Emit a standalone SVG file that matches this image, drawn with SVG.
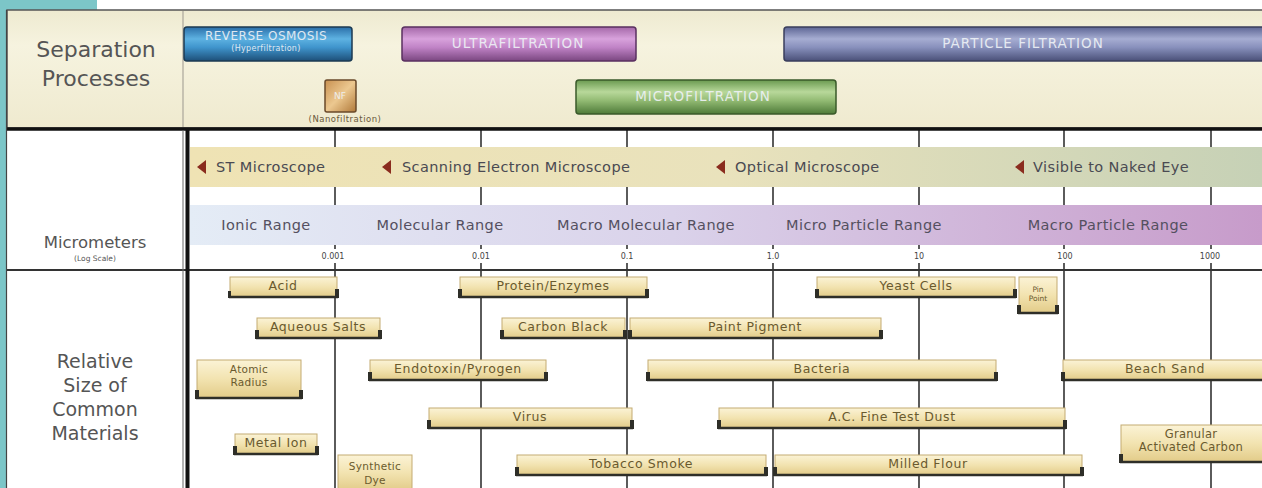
<svg xmlns="http://www.w3.org/2000/svg" width="1262" height="488" viewBox="0 0 1262 488">
<defs>
<linearGradient id="tan" x1="0" y1="0" x2="0" y2="1"><stop offset="0" stop-color="#fbf3d6"/><stop offset="0.5" stop-color="#f2e3b0"/><stop offset="1" stop-color="#e2cb88"/></linearGradient>
<linearGradient id="gBlue" x1="0" y1="0" x2="0" y2="1"><stop offset="0" stop-color="#2a6ea8"/><stop offset="0.35" stop-color="#5eb2e2"/><stop offset="0.6" stop-color="#3f94cc"/><stop offset="1" stop-color="#1d4f78"/></linearGradient>
<linearGradient id="gPurple" x1="0" y1="0" x2="0" y2="1"><stop offset="0" stop-color="#a468a8"/><stop offset="0.35" stop-color="#d8a2dc"/><stop offset="0.6" stop-color="#c083c6"/><stop offset="1" stop-color="#7a4680"/></linearGradient>
<linearGradient id="gSlate" x1="0" y1="0" x2="0" y2="1"><stop offset="0" stop-color="#5d6594"/><stop offset="0.35" stop-color="#a6add2"/><stop offset="0.6" stop-color="#8890bc"/><stop offset="1" stop-color="#4a5078"/></linearGradient>
<linearGradient id="gGreen" x1="0" y1="0" x2="0" y2="1"><stop offset="0" stop-color="#6a9a50"/><stop offset="0.35" stop-color="#b8d89a"/><stop offset="0.6" stop-color="#93bb74"/><stop offset="1" stop-color="#4e7a38"/></linearGradient>
<linearGradient id="gNF" x1="0" y1="0" x2="1" y2="1"><stop offset="0" stop-color="#c89050"/><stop offset="0.5" stop-color="#ecc890"/><stop offset="1" stop-color="#b07838"/></linearGradient>
<linearGradient id="gPanel" x1="0" y1="0" x2="0" y2="1"><stop offset="0" stop-color="#eeead0"/><stop offset="0.3" stop-color="#f6f3df"/><stop offset="1" stop-color="#efeacf"/></linearGradient>
<linearGradient id="gMicro" x1="0" y1="0" x2="1" y2="0"><stop offset="0" stop-color="#efe3b4"/><stop offset="0.5" stop-color="#e9e2bc"/><stop offset="1" stop-color="#c6d1b6"/></linearGradient>
<linearGradient id="gRange" x1="0" y1="0" x2="1" y2="0"><stop offset="0" stop-color="#e4ecf6"/><stop offset="0.45" stop-color="#dad2ea"/><stop offset="1" stop-color="#c79bca"/></linearGradient>
<style>
.lbl{font-family:"DejaVu Sans",sans-serif;fill:#555;text-anchor:middle}
.bar{stroke-width:1.5}
.bartxt{font-family:"DejaVu Sans",sans-serif;font-size:13.5px;letter-spacing:1px;fill:#eef2f6;text-anchor:middle;opacity:0.9}
.band{font-family:"DejaVu Sans",sans-serif;font-size:14.5px;letter-spacing:0.4px;fill:#4a4a52}
.rng{font-family:"DejaVu Sans",sans-serif;font-size:14.5px;letter-spacing:0.4px;fill:#545060;text-anchor:middle}
.ax{font-family:"DejaVu Sans",sans-serif;font-size:8px;fill:#444;text-anchor:middle}
.grid{stroke:#333;stroke-width:1.6}
.box rect.b{fill:url(#tan);stroke:#c4ab72;stroke-width:1}
.box line{stroke:#2e2e28;stroke-width:2.6}
.box rect.cap{fill:#2e2e28}
.box text{font-family:"DejaVu Sans",sans-serif;font-size:12.5px;letter-spacing:0.6px;fill:#6a5a2e;text-anchor:middle}
.arr{fill:#8a2c1e}
</style>
</defs>

<!-- background -->
<rect x="0" y="0" width="1262" height="488" fill="#ffffff"/>
<rect x="0" y="0" width="97" height="10" fill="#7cc6c8"/>
<rect x="0" y="0" width="6" height="488" fill="#7cc6c8"/>

<!-- top panel -->
<g id="separation-panel">
<rect x="7" y="10" width="1256" height="118" fill="url(#gPanel)" stroke="#555" stroke-width="1.5"/>
<line x1="183" y1="11" x2="183" y2="127" stroke="#aaa69a" stroke-width="1.2"/>
<text class="lbl" x="96" y="57" font-size="22">Separation</text>
<text class="lbl" x="96" y="86" font-size="22">Processes</text>
</g>

<g id="reverse-osmosis">
<rect class="bar" x="184" y="27" width="168" height="34" rx="3" fill="url(#gBlue)" stroke="#1c3a52"/>
<text class="bartxt" x="266" y="40" style="font-size:12px;letter-spacing:0.5px">REVERSE OSMOSIS</text>
<text class="bartxt" x="266" y="51" style="font-size:8px;letter-spacing:0.3px">(Hyperfiltration)</text>
</g>
<g id="ultrafiltration">
<rect class="bar" x="402" y="27" width="234" height="34" rx="3" fill="url(#gPurple)" stroke="#5a3060"/>
<text class="bartxt" x="518" y="48">ULTRAFILTRATION</text>
</g>
<g id="particle-filtration">
<rect class="bar" x="784" y="27" width="490" height="34" rx="3" fill="url(#gSlate)" stroke="#3a3e5c"/>
<text class="bartxt" x="1023" y="48">PARTICLE FILTRATION</text>
</g>
<g id="microfiltration">
<rect class="bar" x="576" y="80" width="260" height="34" rx="3" fill="url(#gGreen)" stroke="#3a5a2a"/>
<text class="bartxt" x="703" y="101">MICROFILTRATION</text>
</g>
<g id="nanofiltration">
<rect x="325" y="80" width="31" height="32" rx="2" fill="url(#gNF)" stroke="#6a4a2a" stroke-width="1.5"/>
<text class="bartxt" x="340" y="99" style="font-size:9px;letter-spacing:0">NF</text>
<text x="345" y="122" font-family="DejaVu Sans, sans-serif" font-size="8.5" letter-spacing="0.5" fill="#6a5a3a" text-anchor="middle">(Nanofiltration)</text>
</g>

<!-- connectors: axis grid lines -->
<g id="connectors">
<g class="grid">
<line x1="335" y1="130" x2="335" y2="249"/><line x1="335" y1="263" x2="335" y2="488"/>
<line x1="481" y1="130" x2="481" y2="249"/><line x1="481" y1="263" x2="481" y2="488"/>
<line x1="627" y1="130" x2="627" y2="249"/><line x1="627" y1="263" x2="627" y2="488"/>
<line x1="773" y1="130" x2="773" y2="249"/><line x1="773" y1="263" x2="773" y2="488"/>
<line x1="919" y1="130" x2="919" y2="249"/><line x1="919" y1="263" x2="919" y2="488"/>
<line x1="1064" y1="130" x2="1064" y2="249"/><line x1="1064" y1="263" x2="1064" y2="488"/>
<line x1="1211" y1="130" x2="1211" y2="249"/><line x1="1211" y1="263" x2="1211" y2="488"/>
</g>
</g>

<!-- frame lines -->
<line x1="7" y1="129" x2="1262" y2="129" stroke="#111" stroke-width="3.5"/>
<line x1="7" y1="270" x2="1262" y2="270" stroke="#333" stroke-width="2"/>
<line x1="6.5" y1="10" x2="6.5" y2="488" stroke="#444" stroke-width="1.2"/>
<line x1="183" y1="130" x2="183" y2="488" stroke="#666" stroke-width="1"/>
<line x1="187.5" y1="130" x2="187.5" y2="488" stroke="#111" stroke-width="4"/>

<!-- microscope band -->
<g id="microscope-band">
<rect x="190" y="147" width="1072" height="40" fill="url(#gMicro)"/>
<polygon class="arr" points="197,167 206,160 206,174"/>
<text class="band" x="216" y="172">ST Microscope</text>
<polygon class="arr" points="382,167 391,160 391,174"/>
<text class="band" x="402" y="172">Scanning Electron Microscope</text>
<polygon class="arr" points="716,167 725,160 725,174"/>
<text class="band" x="735" y="172">Optical Microscope</text>
<polygon class="arr" points="1015,167 1024,160 1024,174"/>
<text class="band" x="1033" y="172">Visible to Naked Eye</text>
</g>

<!-- range band -->
<g id="range-band">
<rect x="190" y="205" width="1072" height="40" fill="url(#gRange)"/>
<text class="rng" x="266" y="230">Ionic Range</text>
<text class="rng" x="440" y="230">Molecular Range</text>
<text class="rng" x="646" y="230">Macro Molecular Range</text>
<text class="rng" x="864" y="230">Micro Particle Range</text>
<text class="rng" x="1108" y="230">Macro Particle Range</text>
</g>

<g id="axis">
<text class="ax" x="333" y="259">0.001</text>
<text class="ax" x="481" y="259">0.01</text>
<text class="ax" x="627" y="259">0.1</text>
<text class="ax" x="773" y="259">1.0</text>
<text class="ax" x="919" y="259">10</text>
<text class="ax" x="1065" y="259">100</text>
<text class="ax" x="1210" y="259">1000</text>
</g>

<g id="micrometers-label">
<text class="lbl" x="95" y="248" font-size="16.5">Micrometers</text>
<text class="lbl" x="95" y="261" font-size="7.5">(Log Scale)</text>
</g>

<g id="materials-label">
<text class="lbl" x="95" y="368" font-size="19">Relative</text>
<text class="lbl" x="95" y="392" font-size="19">Size of</text>
<text class="lbl" x="95" y="416" font-size="19">Common</text>
<text class="lbl" x="95" y="440" font-size="19">Materials</text>
</g>

<!-- material boxes -->
<g id="acid" class="box"><rect class="b" x="230" y="277" width="107" height="20"/><line x1="229" y1="297" x2="338" y2="297"/><rect class="cap" x="228" y="291" width="3" height="7"/><rect class="cap" x="335" y="289" width="4" height="9"/><text x="283" y="290">Acid</text></g>
<g id="protein" class="box"><rect class="b" x="460" y="277" width="187" height="20"/><line x1="459" y1="297" x2="648" y2="297"/><rect class="cap" x="458" y="289" width="4" height="9"/><rect class="cap" x="645" y="289" width="4" height="9"/><text x="553" y="290">Protein/Enzymes</text></g>
<g id="yeast" class="box"><rect class="b" x="817" y="277" width="198" height="20"/><line x1="816" y1="297" x2="1016" y2="297"/><rect class="cap" x="815" y="289" width="4" height="9"/><rect class="cap" x="1013" y="289" width="4" height="9"/><text x="916" y="290">Yeast Cells</text></g>
<g id="pin-point" class="box"><rect class="b" x="1019" y="277" width="38" height="36"/><line x1="1018" y1="313" x2="1058" y2="313"/><rect class="cap" x="1017" y="305" width="4" height="9"/><rect class="cap" x="1055" y="305" width="4" height="9"/><text x="1038" y="292" style="font-size:7.5px;letter-spacing:0">Pin</text><text x="1038" y="301" style="font-size:7.5px;letter-spacing:0">Point</text></g>

<g id="aqueous-salts" class="box"><rect class="b" x="257" y="318" width="123" height="20"/><line x1="256" y1="338" x2="381" y2="338"/><rect class="cap" x="255" y="330" width="4" height="9"/><rect class="cap" x="378" y="330" width="4" height="9"/><text x="318" y="331">Aqueous Salts</text></g>
<g id="carbon-black" class="box"><rect class="b" x="502" y="318" width="123" height="20"/><line x1="501" y1="338" x2="626" y2="338"/><rect class="cap" x="500" y="330" width="4" height="9"/><rect class="cap" x="623" y="330" width="4" height="9"/><text x="563" y="331">Carbon Black</text></g>
<g id="paint-pigment" class="box"><rect class="b" x="630" y="318" width="251" height="20"/><line x1="629" y1="338" x2="882" y2="338"/><rect class="cap" x="628" y="330" width="4" height="9"/><rect class="cap" x="879" y="330" width="4" height="9"/><text x="755" y="331">Paint Pigment</text></g>

<g id="atomic-radius" class="box"><rect class="b" x="197" y="360" width="104" height="38"/><line x1="196" y1="398" x2="302" y2="398"/><rect class="cap" x="195" y="390" width="4" height="9"/><rect class="cap" x="299" y="390" width="4" height="9"/><text x="249" y="373" style="font-size:10.5px;letter-spacing:0.3px">Atomic</text><text x="249" y="386" style="font-size:10.5px;letter-spacing:0.3px">Radius</text></g>
<g id="endotoxin" class="box"><rect class="b" x="370" y="360" width="176" height="20"/><line x1="369" y1="380" x2="547" y2="380"/><rect class="cap" x="368" y="372" width="4" height="9"/><rect class="cap" x="544" y="372" width="4" height="9"/><text x="458" y="373">Endotoxin/Pyrogen</text></g>
<g id="bacteria" class="box"><rect class="b" x="648" y="360" width="348" height="20"/><line x1="647" y1="380" x2="997" y2="380"/><rect class="cap" x="646" y="372" width="4" height="9"/><rect class="cap" x="994" y="372" width="4" height="9"/><text x="822" y="373">Bacteria</text></g>
<g id="beach-sand" class="box"><rect class="b" x="1063" y="360" width="210" height="20"/><line x1="1062" y1="380" x2="1273" y2="380"/><rect class="cap" x="1061" y="372" width="4" height="9"/><text x="1165" y="373">Beach Sand</text></g>

<g id="virus" class="box"><rect class="b" x="429" y="408" width="203" height="20"/><line x1="428" y1="428" x2="633" y2="428"/><rect class="cap" x="427" y="420" width="4" height="9"/><rect class="cap" x="630" y="420" width="4" height="9"/><text x="530" y="421">Virus</text></g>
<g id="ac-fine-test-dust" class="box"><rect class="b" x="719" y="408" width="346" height="20"/><line x1="718" y1="428" x2="1066" y2="428"/><rect class="cap" x="717" y="420" width="4" height="9"/><rect class="cap" x="1063" y="420" width="4" height="9"/><text x="892" y="421">A.C. Fine Test Dust</text></g>
<g id="granular-activated-carbon" class="box"><rect class="b" x="1121" y="425" width="150" height="37"/><line x1="1120" y1="462" x2="1272" y2="462"/><rect class="cap" x="1119" y="454" width="4" height="9"/><text x="1191" y="438" style="font-size:11.5px;letter-spacing:0.3px">Granular</text><text x="1191" y="451" style="font-size:11.5px;letter-spacing:0.3px">Activated Carbon</text></g>

<g id="metal-ion" class="box"><rect class="b" x="235" y="434" width="82" height="20"/><line x1="234" y1="454" x2="318" y2="454"/><rect class="cap" x="233" y="446" width="4" height="9"/><rect class="cap" x="315" y="446" width="4" height="9"/><text x="276" y="447">Metal Ion</text></g>
<g id="synthetic-dye" class="box"><rect class="b" x="338" y="455" width="74" height="36"/><text x="375" y="470" style="font-size:10.5px;letter-spacing:0.3px">Synthetic</text><text x="375" y="484" style="font-size:10.5px;letter-spacing:0.3px">Dye</text></g>
<g id="tobacco-smoke" class="box"><rect class="b" x="517" y="455" width="249" height="20"/><line x1="516" y1="475" x2="767" y2="475"/><rect class="cap" x="515" y="467" width="4" height="9"/><rect class="cap" x="764" y="467" width="4" height="9"/><text x="641" y="468">Tobacco Smoke</text></g>
<g id="milled-flour" class="box"><rect class="b" x="775" y="455" width="307" height="20"/><line x1="774" y1="475" x2="1083" y2="475"/><rect class="cap" x="773" y="467" width="4" height="9"/><rect class="cap" x="1080" y="467" width="4" height="9"/><text x="928" y="468">Milled Flour</text></g>
</svg>
